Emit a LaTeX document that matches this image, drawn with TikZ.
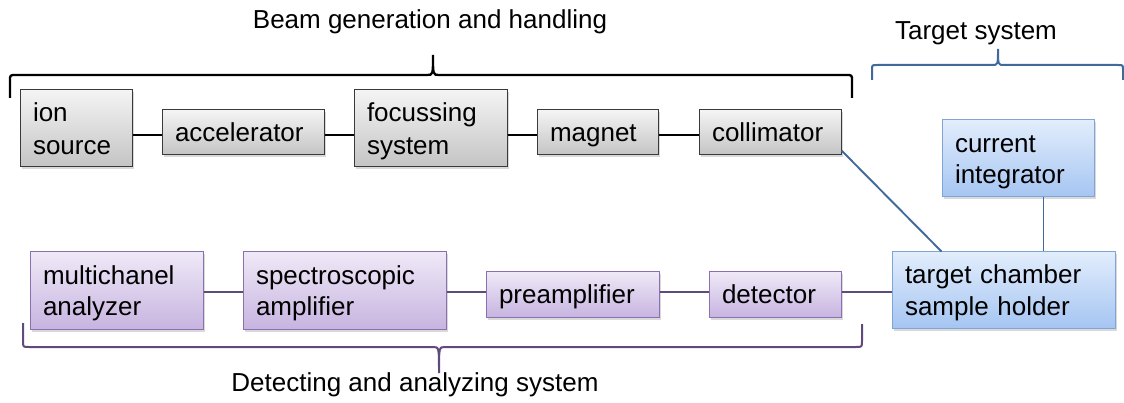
\documentclass[tikz,border=0pt]{standalone}
\usepackage{fontspec}
\setmainfont{Liberation Sans}
\usetikzlibrary{shadows,calc}
\definecolor{grayTop}{HTML}{F4F4F4}
\definecolor{grayBot}{HTML}{C4C4C4}
\definecolor{grayBorder}{HTML}{3A3A3A}
\definecolor{blueTop}{HTML}{E2EDFC}
\definecolor{blueBot}{HTML}{A5C5F2}
\definecolor{blueBorder}{HTML}{7FA5D6}
\definecolor{blueLine}{HTML}{41699A}
\definecolor{purTop}{HTML}{EFE9F7}
\definecolor{purBot}{HTML}{C7B4E0}
\definecolor{purBorder}{HTML}{8B70AF}
\definecolor{purLine}{HTML}{604A7B}
\newcommand{\bxt}[1]{\raisebox{-3.3pt}[\height][\depth]{\begin{tabular}[b]{@{}l@{}}#1\end{tabular}}}
\begin{document}
\begin{tikzpicture}[x=1pt,y=-1pt,
  every node/.style={font=\fontsize{26}{31}\selectfont},
  box/.style={rectangle, inner xsep=13pt, inner ysep=0pt, align=left,
    drop shadow={opacity=0.3, shadow xshift=2pt, shadow yshift=-2.5pt}},
  graybox/.style={box, draw=grayBorder, line width=1pt, top color=grayTop, bottom color=grayBot},
  bluebox/.style={box, draw=blueBorder, line width=1pt, top color=blueTop, bottom color=blueBot},
  purbox/.style={box, draw=purBorder, line width=1pt, top color=purTop, bottom color=purBot},
  wide/.style={font=\fontsize{26}{33}\selectfont},
  blk/.style={draw=black, line width=1.9pt},
  bln/.style={draw=blueLine, line width=1.9pt},
  prl/.style={draw=purLine, line width=1.9pt},
  lbl/.style={inner sep=0pt}
]
\useasboundingbox (0,0) rectangle (1124,403);

% top row
\node[graybox, wide, minimum width=112pt, minimum height=77pt, text width=86pt] (ion) at (76,128.5) {\bxt{ion\\source}};
\node[graybox, minimum width=162pt, minimum height=45pt, text width=136pt] (acc) at (243,132.5) {\bxt{accelerator}};
\node[graybox, wide, minimum width=153pt, minimum height=77pt, text width=127pt] (foc) at (430.5,128.5) {\bxt{focussing\\system}};
\node[graybox, minimum width=121pt, minimum height=45pt, text width=95pt] (mag) at (597.5,132.5) {\bxt{magnet}};
\node[graybox, minimum width=142pt, minimum height=45pt, text width=116pt] (coll) at (770,132.5) {\bxt{collimator}};

% target system
\node[bluebox, minimum width=152pt, minimum height=77pt, text width=126pt] (ci) at (1018,158.5) {\bxt{current\\integrator}};
\node[bluebox, minimum width=223pt, minimum height=76pt, text width=197pt] (tc) at (1003.5,290) {\bxt{target chamber\\sample holder}};

% bottom row
\node[purbox, minimum width=173pt, minimum height=77pt, text width=147pt] (mca) at (116.5,290.5) {\bxt{multichanel\\analyzer}};
\node[purbox, minimum width=203pt, minimum height=77pt, text width=177pt] (spec) at (344.5,290.5) {\bxt{spectroscopic\\amplifier}};
\node[purbox, minimum width=173pt, minimum height=45pt, text width=147pt] (pre) at (572.5,294.5) {\bxt{preamplifier}};
\node[purbox, minimum width=132pt, minimum height=45pt, text width=106pt] (det) at (775,294.5) {\bxt{detector}};

% labels
\node[lbl] (lbeam) at (430,22) {Beam generation and handling};
\node[lbl] (ltarget) at (976,33) {Target system};
\node[lbl] (ldet) at (415,385) {Detecting and analyzing system};

% top connectors
\draw[blk] ($(acc.west)+(0,2.5)$) -- ($(acc.west -| ion.east)+(0,2.5)$);
\draw[blk] ($(acc.east)+(0,2.5)$) -- ($(acc.east -| foc.west)+(0,2.5)$);
\draw[blk] ($(mag.west)+(0,2.5)$) -- ($(mag.west -| foc.east)+(0,2.5)$);
\draw[blk] ($(mag.east)+(0,2.5)$) -- ($(mag.east -| coll.west)+(0,2.5)$);

% target connectors
\draw[bln] ($(coll.south east)+(0,-5)$) -- ($(tc.north west)+(50,0)$);
\draw[bln] ($(ci.south west)+(102,0)$) -- ($(tc.north west)+(152,0)$);

% bottom connectors
\draw[prl] ($(mca.east)+(0,1.5)$) -- ($(mca.east -| spec.west)+(0,1.5)$);
\draw[prl] ($(pre.west)+(0,-2.5)$) -- ($(pre.west -| spec.east)+(0,-2.5)$);
\draw[prl] ($(pre.east)+(0,-2.5)$) -- ($(pre.east -| det.west)+(0,-2.5)$);
\draw[prl] ($(det.east)+(0,-2.5)$) -- ($(det.east -| tc.west)+(0,-2.5)$);

% braces
\coordinate (tb) at (433,55);
\draw[draw=black, line width=2.3pt] (10,98) -- (10,81) .. controls (10,75) .. (16,75) -- (427,75) .. controls (433,75) .. (tb) .. controls (433,75) .. (439,75) -- (846,75) .. controls (852,75) .. (852,81) -- (852,98);
\coordinate (tt) at (998,49);
\draw[draw=blueLine, line width=2pt] (872,80) -- (872,70) .. controls (872,65) .. (877,65) -- (992,65) .. controls (998,65) .. (tt) .. controls (998,65) .. (1004,65) -- (1118,65) .. controls (1123,65) .. (1123,70) -- (1123,80);
\coordinate (bt) at (439,373);
\draw[draw=purLine, line width=2pt] (23,323) -- (23,341) .. controls (23,347) .. (29,347) -- (433,347) .. controls (439,347) .. (bt) .. controls (439,347) .. (445,347) -- (856,347) .. controls (862,347) .. (862,341) -- (862,324);
\end{tikzpicture}
\end{document}
